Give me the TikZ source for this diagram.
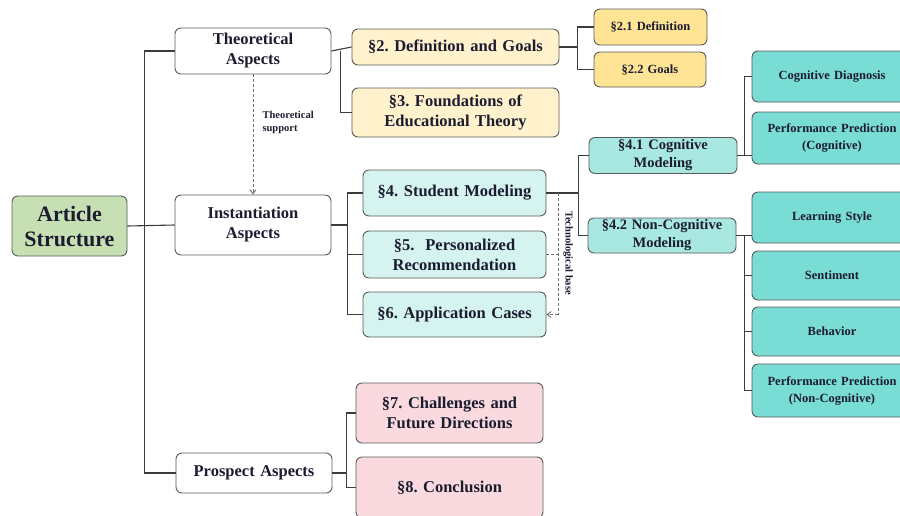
\documentclass[tikz,border=0pt]{standalone}
\definecolor{artgreen}{RGB}{198, 224, 180}
\definecolor{theoyellow}{RGB}{255, 242, 204}
\definecolor{subyellow}{RGB}{255, 228, 150}
\definecolor{instcyan}{RGB}{213, 243, 239}
\definecolor{modcyan}{RGB}{168, 232, 225}
\definecolor{leafteal}{RGB}{122, 221, 213}
\definecolor{prospink}{RGB}{250, 218, 222}
\definecolor{boxgray}{RGB}{90, 90, 90}
\definecolor{linegray}{RGB}{60, 60, 60}
\definecolor{dashgray}{RGB}{110, 110, 110}
\definecolor{inkdark}{RGB}{28, 28, 48}
\usepackage{fontspec}
\setmainfont{Liberation Serif}
\usepackage{tikz}
\usetikzlibrary{arrows.meta, positioning, calc}
\frenchspacing

\begin{document}
\begin{tikzpicture}[x=1pt, y=-1pt,
    box/.style={draw=boxgray, line width=0.9pt, rounded corners=6pt, inner sep=0pt,
      align=center, text=inkdark, font=\bfseries\fontsize{16.5}{20}\selectfont},
    aspect/.style={box, fill=white, text width=156pt},
    secbox/.style={box, text width=#1},
    modbox/.style={box, fill=modcyan, text width=148pt, font=\bfseries\fontsize{14.5}{18}\selectfont},
    leafbox/.style={box, fill=leafteal, text width=160pt, font=\bfseries\fontsize{12.5}{17}\selectfont},
    conn/.style={draw=linegray, line width=1.1pt},
    dashline/.style={draw=dashgray, line width=0.9pt, dash pattern=on 3pt off 2pt},
    support/.style={dashline, -{Straight Barb[length=4pt, width=6pt]}},
    note/.style={text=inkdark, font=\bfseries\fontsize{10.5}{13}\selectfont}]

  \useasboundingbox (0,0) rectangle (900,515);
  \clip (0,0) rectangle (900,515);

  % Root
  \node[box, fill=artgreen, text width=115pt, minimum height=60pt, font=\bfseries\fontsize{22}{25}\selectfont] (art) at (69.5,226) {Article\\Structure};

  % Three aspects
  \node[aspect, minimum height=46pt] (theo) at (253,51) {Theoretical\\Aspects};
  \node[aspect, minimum height=60pt] (inst) at (253,225) {Instantiation\\Aspects};
  \node[aspect, minimum height=40pt] (pros) at (254,473) {Prospect Aspects};

  \draw[conn] (art.east) -- (inst.west);
  \draw[conn] (theo.west) -- ++(-30,0) |- (pros.west);

  % Theoretical part
  \node[secbox=207pt, fill=theoyellow, minimum height=36pt] (sec2) at (455.5,47) {\S2. Definition and Goals};
  \node[secbox=207pt, fill=theoyellow, minimum height=49pt] (sec3) at (455.5,112.5) {\S3. Foundations of\\Educational Theory};
  \node[secbox=113pt, fill=subyellow, minimum height=36pt, font=\bfseries\fontsize{12.5}{15}\selectfont] (sec21) at (650.5,27) {\S2.1 Definition};
  \node[secbox=112pt, fill=subyellow, minimum height=35pt, font=\bfseries\fontsize{12.5}{15}\selectfont] (sec22) at (650,69.5) {\S2.2 Goals};

  \draw[conn] (theo.east) -- (sec2.west);
  \draw[conn] ($(theo.east)+(9,0)$) |- (sec3.west);
  \draw[conn] (sec2.east) -- ++(18,0) |- (sec21.west);
  \draw[conn] ($(sec2.east)+(18,0)$) |- (sec22.west);

  % Theoretical support
  \draw[support] (theo.south) -- (inst.north);
  \node[note, anchor=west, align=left] (suplab) at (259,122) {Theoretical\\support};

  % Instantiation part
  \node[secbox=183pt, fill=instcyan, minimum height=46pt] (sec4) at (454.5,193) {\S4. Student Modeling};
  \node[secbox=183pt, fill=instcyan, minimum height=47pt] (sec5) at (454.5,254.5) {\S5.\ \ Personalized\\Recommendation};
  \node[secbox=183pt, fill=instcyan, minimum height=45pt] (sec6) at (454.5,314.5) {\S6. Application Cases};

  \draw[conn] (inst.east) -- ++(16,0) coordinate (ibr);
  \draw[conn] (ibr |- sec4.west) -- (ibr |- sec6.west);
  \draw[conn] (ibr |- sec4.west) -- (sec4.west);
  \draw[conn] (ibr |- sec5.west) -- (sec5.west);
  \draw[conn] (ibr |- sec6.west) -- (sec6.west);

  % Student modeling split
  \node[modbox, minimum height=36pt] (cogmod) at (663,155.5) {\S4.1 Cognitive\\Modeling};
  \node[modbox, minimum height=35pt] (noncog) at (662,235.5) {\S4.2 Non-Cognitive\\Modeling};

  \draw[conn] (sec4.east) -- ++(32,0) coordinate (sbr);
  \draw[conn] (sbr |- cogmod.west) -- (sbr |- noncog.west);
  \draw[conn] (sbr |- cogmod.west) -- (cogmod.west);
  \draw[conn] (sbr |- noncog.west) -- (noncog.west);

  % Technological base
  \coordinate (tb) at ($(sec4.east)+(12,0)$);
  \draw[dashline] (tb) -- (tb |- sec6.east);
  \draw[dashline] (sec5.east) -- (tb |- sec5.east);
  \draw[support] (tb |- sec6.east) -- (sec6.east);
  \node[note, rotate=-90] (techlab) at (568,253) {Technological base};

  % Cognitive leaves
  \node[leafbox, minimum height=51pt] (cogdiag) at (832,76.5) {Cognitive Diagnosis};
  \node[leafbox, minimum height=52pt] (perfcog) at (832,138) {Performance Prediction\\(Cognitive)};

  \draw[conn] (cogmod.east) -- (cogmod.east -| perfcog.west);
  \draw[conn] ($(cogmod.east)+(7,0)$) |- (cogdiag.west);

  % Non-cognitive leaves
  \node[leafbox, minimum height=51pt] (lstyle) at (832,217.5) {Learning Style};
  \node[leafbox, minimum height=49pt] (sentim) at (832,275.5) {Sentiment};
  \node[leafbox, minimum height=49pt] (behav) at (832,331.5) {Behavior};
  \node[leafbox, minimum height=53pt] (perfnon) at (832,390.5) {Performance Prediction\\(Non-Cognitive)};

  \draw[conn] (noncog.east) -- (noncog.east -| lstyle.west);
  \draw[conn] ($(noncog.east)+(8,0)$) |- (perfnon.west);
  \draw[conn] ($(noncog.east)+(8,0)$) |- (sentim.west);
  \draw[conn] ($(noncog.east)+(8,0)$) |- (behav.west);

  % Prospect part
  \node[secbox=187pt, fill=prospink, minimum height=60pt] (sec7) at (449.5,413) {\S7. Challenges and\\Future Directions};
  \node[secbox=187pt, fill=prospink, minimum height=61pt] (sec8) at (449.5,487.5) {\S8. Conclusion};

  \draw[conn] (pros.east) -- ++(14,0) coordinate (pbr);
  \draw[conn] (pbr |- sec7.west) -- (pbr |- sec8.west);
  \draw[conn] (pbr |- sec7.west) -- (sec7.west);
  \draw[conn] (pbr |- sec8.west) -- (sec8.west);
\end{tikzpicture}
\end{document}
